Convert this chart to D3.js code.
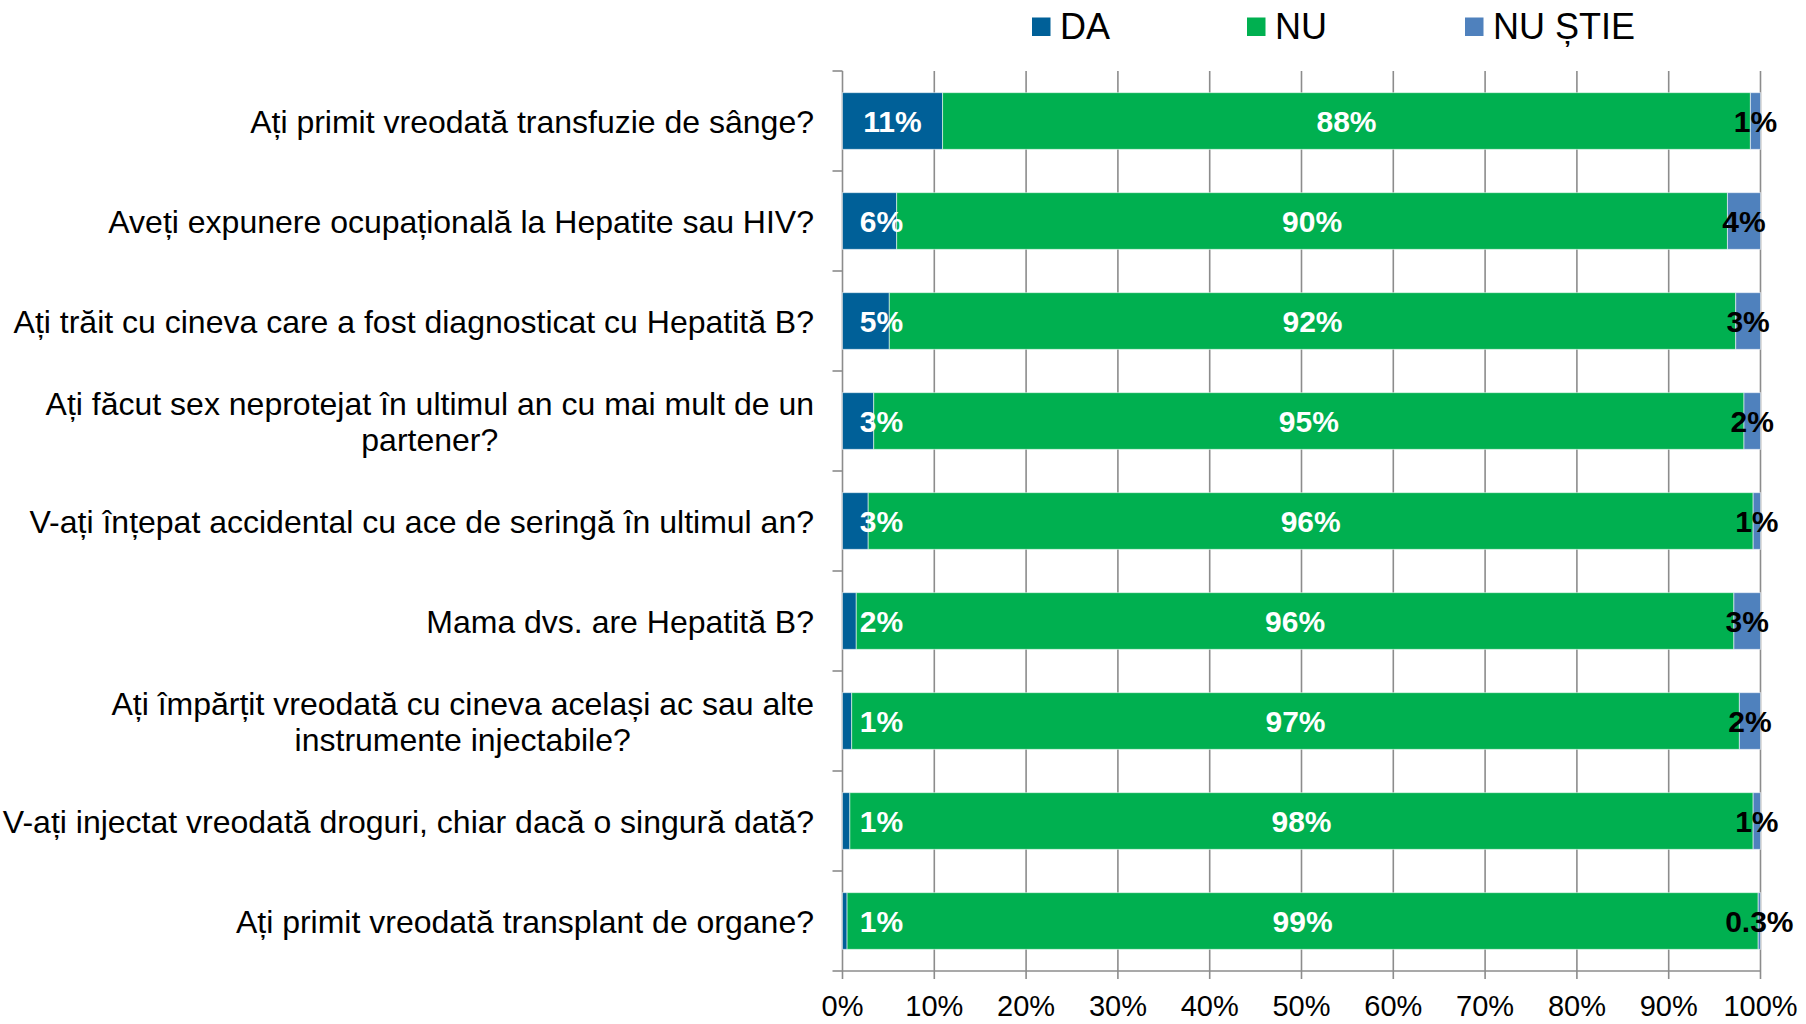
<!DOCTYPE html>
<html><head><meta charset="utf-8">
<script src="https://cdn.jsdelivr.net/npm/d3@7"></script>
<style>
html,body{margin:0;padding:0;background:#fff;}
svg{display:block;font-family:"Liberation Sans",Arial,sans-serif;}
</style></head>
<body>
<svg id="chart" width="1806" height="1024"></svg>
<script>
const categories = [
  "Ați primit vreodată transfuzie de sânge?",
  "Aveți expunere ocupațională la Hepatite sau HIV?",
  "Ați trăit cu cineva care a fost diagnosticat cu Hepatită B?",
  "Ați făcut sex neprotejat în ultimul an cu mai mult de un\npartener?",
  "V-ați înțepat accidental cu ace de seringă în ultimul an?",
  "Mama dvs. are Hepatită B?",
  "Ați împărțit vreodată cu cineva același ac sau alte\ninstrumente injectabile?",
  "V-ați injectat vreodată droguri, chiar dacă o singură dată?",
  "Ați primit vreodată transplant de organe?"
];
const seriesNames = ["DA", "NU", "NU ȘTIE"];
const daValues    = [10.9, 5.9, 5.1, 3.4, 2.8, 1.5, 1.0, 0.8, 0.5];
const nuValues    = [88.0, 90.5, 92.2, 94.8, 96.4, 95.6, 96.7, 98.4, 99.25];
const nsValues    = [1.1, 3.6, 2.7, 1.8, 0.8, 2.9, 2.3, 0.8, 0.25];
const daLabels    = ["11%", "6%", "5%", "3%", "3%", "2%", "1%", "1%", "1%"];
const nuLabels    = ["88%", "90%", "92%", "95%", "96%", "96%", "97%", "98%", "99%"];
const nsLabels    = ["1%", "4%", "3%", "2%", "1%", "3%", "2%", "1%", "0.3%"];
const tickValues  = [0, 10, 20, 30, 40, 50, 60, 70, 80, 90, 100];
const tickLabels  = ["0%", "10%", "20%", "30%", "40%", "50%", "60%", "70%", "80%", "90%", "100%"];

const colors = ["#006098", "#00B050", "#4F81BD"];
const labelColors = ["#fff", "#fff", "#000"];

const svg = d3.select("#chart");
const L = 842.5, R = 1760.5, T = 71, B = 971;

const x = d3.scaleLinear().domain([0, 100]).range([L, R]);
const y = d3.scaleBand().domain(categories).range([T, B]).paddingInner(0.433).paddingOuter(0.2165);

// gridlines
const grid = svg.append("g");
grid.selectAll("line").data(tickValues.slice(1)).join("line")
  .attr("x1", d => x(d)).attr("x2", d => x(d))
  .attr("y1", T).attr("y2", B + 8)
  .attr("stroke", "#8c8c8c").attr("stroke-width", 1.6);

// y axis line + ticks
svg.append("line").attr("x1", L).attr("x2", L).attr("y1", T).attr("y2", B + 8)
  .attr("stroke", "#8c8c8c").attr("stroke-width", 1.6);
const bounds = d3.range(categories.length + 1).map(i => T + i * y.step());
svg.append("g").selectAll("line").data(bounds).join("line")
  .attr("x1", L - 10).attr("x2", L).attr("y1", d => d).attr("y2", d => d)
  .attr("stroke", "#8c8c8c").attr("stroke-width", 1.6);
// x axis line
svg.append("line").attr("x1", L).attr("x2", R).attr("y1", B).attr("y2", B)
  .attr("stroke", "#8c8c8c").attr("stroke-width", 1.6);

// stacked data
const rows = categories.map((c, i) => {
  const tot = daValues[i] + nuValues[i] + nsValues[i];
  const vals = [daValues[i], nuValues[i], nsValues[i]].map(v => v / tot * 100);
  const labs = [daLabels[i], nuLabels[i], nsLabels[i]];
  let acc = 0;
  return vals.map((v, k) => { const s = {cat: c, k, x0: acc, x1: acc + v, label: labs[k]}; acc += v; return s; });
});
const segs = rows.flat();

svg.append("g").selectAll("rect").data(segs).join("rect")
  .attr("x", d => x(d.x0)).attr("width", d => x(d.x1) - x(d.x0))
  .attr("y", d => y(d.cat)).attr("height", y.bandwidth())
  .attr("fill", d => colors[d.k])
  .attr("stroke", "rgba(255,255,255,0.55)").attr("stroke-width", 1);

svg.append("g").selectAll("text").data(segs).join("text")
  .attr("x", d => {
    const c = (x(d.x0) + x(d.x1)) / 2;
    return d.k === 0 ? Math.max(c, L + 39) : c;
  })
  .attr("y", d => y(d.cat) + y.bandwidth() / 2)
  .attr("dy", "0.36em")
  .attr("text-anchor", "middle")
  .attr("font-weight", "bold").attr("font-size", 30)
  .attr("fill", d => labelColors[d.k])
  .text(d => d.label);

// category labels
const catG = svg.append("g");
categories.forEach(c => {
  const lines = c.split("\n");
  const cy = y(c) + y.bandwidth() / 2;
  const lh = 36;
  const t = catG.append("text").attr("font-size", 32).attr("fill", "#000");
  if (lines.length === 1) {
    t.attr("x", 814).attr("y", cy).attr("dy", "0.36em").attr("text-anchor", "end").text(c);
  } else {
    t.attr("text-anchor", "middle");
    const tmp = lines.map((ln, j) => t.append("tspan").attr("y", cy + (j - (lines.length - 1) / 2) * lh).attr("dy", "0.36em").text(ln));
    const w = d3.max(tmp, s => s.node().getComputedTextLength());
    tmp.forEach(s => s.attr("x", 814 - w / 2));
  }
});

// x tick labels
svg.append("g").selectAll("text").data(tickValues).join("text")
  .attr("x", d => x(d)).attr("y", 1006).attr("dy", "0.36em")
  .attr("text-anchor", "middle").attr("font-size", 29).attr("fill", "#000")
  .text((d, i) => tickLabels[i]);

// legend
const legX = [1032, 1247, 1465];
const leg = svg.append("g");
seriesNames.forEach((n, i) => {
  leg.append("rect").attr("x", legX[i]).attr("y", 17.5).attr("width", 18.5).attr("height", 18.5).attr("fill", colors[i]);
  leg.append("text").attr("x", legX[i] + 28).attr("y", 38.5).attr("font-size", 36).attr("fill", "#000").text(n);
});
</script>
</body></html>
